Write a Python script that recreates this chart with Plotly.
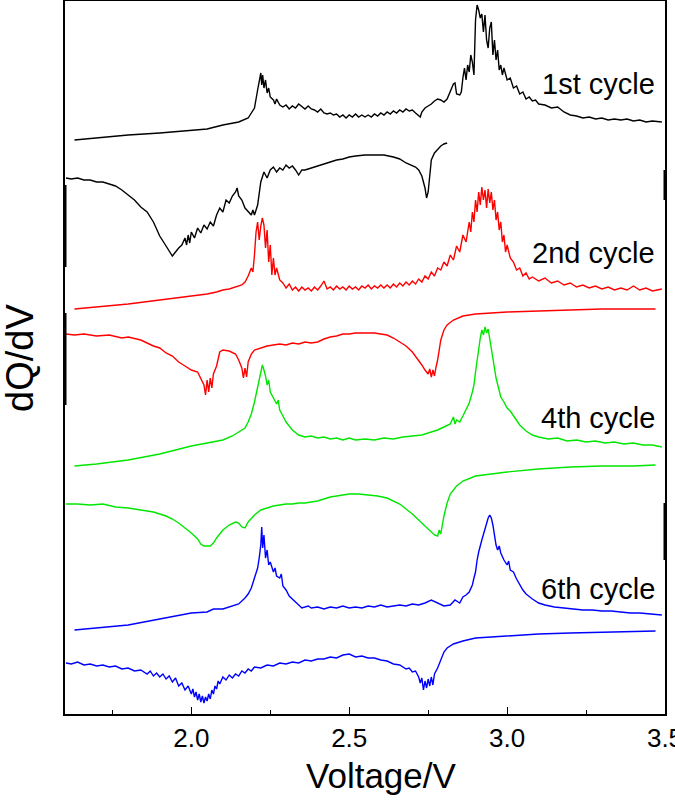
import plotly.graph_objects as go

# ---------------- data (Voltage / V, dQ/dV stacked, a.u.) ----------------
c1_chg_v = [1.63,1.70,1.80,1.90,2.00,2.05,2.10,2.15,2.18,2.20,2.21,2.215,2.22,2.223,2.226,2.23,2.235,2.24,2.245,2.25,2.26,2.265,2.27,2.28,2.29,2.30,2.31,2.32,2.33,2.34,2.35,2.36,2.37,2.38,2.39,2.40,2.41,2.42,2.43,2.44,2.45,2.46,2.47,2.48,2.49,2.50,2.51,2.52,2.53,2.54,2.55,2.56,2.57,2.58,2.59,2.60,2.61,2.62,2.63,2.64,2.65,2.66,2.67,2.68,2.69,2.70,2.71,2.72,2.725,2.73,2.74,2.75,2.76,2.77,2.78,2.79,2.80,2.81,2.82,2.83,2.835,2.84,2.85,2.855,2.86,2.865,2.87,2.875,2.88,2.885,2.89,2.895,2.90,2.905,2.91,2.915,2.92,2.925,2.93,2.935,2.94,2.945,2.95,2.955,2.96,2.965,2.97,2.975,2.98,2.985,2.99,3.00,3.01,3.02,3.03,3.04,3.05,3.06,3.07,3.08,3.09,3.10,3.12,3.14,3.16,3.18,3.20,3.22,3.24,3.26,3.28,3.30,3.32,3.34,3.36,3.38,3.40,3.42,3.44,3.46,3.49]
c1_chg_q = [574,576,579,581,584,585,589,592,596,606,624,634,641,629,639,626,634,621,626,617,614,610,615,609,607,609,605,608,606,610,607,605,608,605,604,602,605,601,600,601,599,600,597,599,596,599,597,600,597,599,597,599,597,600,598,601,599,602,600,603,601,604,602,605,603,604,601,598,597,602,606,608,610,613,615,614,612,615,622,630,631,620,619,622,636,646,634,649,642,659,652,639,694,709,704,696,700,682,699,674,666,686,692,659,674,654,664,644,649,639,646,634,636,626,628,620,622,615,617,613,614,610,609,606,607,602,599,598,596,597,595,596,594,595,594,595,593,594,592,593,592]

c1_dis_v = [1.603,1.62,1.64,1.66,1.68,1.70,1.72,1.74,1.76,1.78,1.80,1.82,1.84,1.86,1.88,1.90,1.92,1.94,1.96,1.97,1.98,1.985,1.99,1.995,2.00,2.01,2.02,2.03,2.04,2.05,2.06,2.07,2.08,2.09,2.10,2.11,2.12,2.13,2.14,2.145,2.15,2.16,2.17,2.18,2.19,2.195,2.20,2.21,2.22,2.23,2.24,2.25,2.26,2.27,2.28,2.29,2.30,2.31,2.32,2.33,2.34,2.35,2.36,2.38,2.40,2.42,2.44,2.46,2.48,2.50,2.52,2.55,2.58,2.61,2.64,2.66,2.68,2.70,2.71,2.72,2.73,2.74,2.745,2.75,2.755,2.76,2.77,2.78,2.79,2.80,2.81]
c1_dis_q = [536,535,536,534,534,532,532,530,528,524,519,514,507,502,492,478,468,458,466,469,476,469,479,471,482,476,486,481,489,485,492,488,499,506,502,514,511,518,522,526,518,514,506,502,499,504,499,509,532,542,536,544,547,542,546,544,549,546,548,544,539,544,544,546,548,550,552,554,555,557,558,559,559,559,557,555,551,548,547,544,538,526,516,522,542,554,561,565,568,570,571]

c2_chg_v = [1.63,1.70,1.80,1.90,2.00,2.05,2.08,2.10,2.12,2.14,2.16,2.17,2.18,2.19,2.195,2.20,2.205,2.21,2.215,2.22,2.225,2.23,2.235,2.24,2.245,2.25,2.255,2.26,2.265,2.27,2.28,2.29,2.30,2.31,2.32,2.33,2.34,2.35,2.36,2.37,2.38,2.39,2.40,2.41,2.42,2.43,2.44,2.45,2.46,2.47,2.48,2.49,2.50,2.51,2.52,2.53,2.54,2.55,2.56,2.57,2.58,2.59,2.60,2.61,2.62,2.63,2.64,2.65,2.66,2.67,2.68,2.69,2.70,2.71,2.72,2.73,2.74,2.75,2.76,2.77,2.78,2.79,2.80,2.81,2.82,2.83,2.84,2.85,2.86,2.87,2.88,2.885,2.89,2.895,2.90,2.905,2.91,2.915,2.92,2.925,2.93,2.935,2.94,2.945,2.95,2.955,2.96,2.965,2.97,2.975,2.98,2.985,2.99,2.995,3.00,3.01,3.02,3.03,3.04,3.05,3.06,3.07,3.08,3.10,3.12,3.14,3.16,3.18,3.20,3.22,3.24,3.26,3.28,3.30,3.32,3.34,3.36,3.38,3.40,3.42,3.44,3.46,3.49]
c2_chg_q = [405,407,410,414,418,420,422,424,425,427,429,432,438,446,442,459,482,492,474,488,496,489,466,484,452,469,439,456,439,446,434,431,426,430,424,427,423,427,424,426,423,427,424,428,433,425,427,424,428,425,427,424,428,425,427,424,428,426,429,425,428,426,429,426,429,426,430,427,431,428,432,429,433,430,435,432,438,435,442,438,446,444,452,448,459,454,468,462,479,472,492,482,502,492,514,502,522,509,527,514,524,506,525,511,522,504,514,494,502,484,492,472,479,462,469,456,452,444,446,438,441,435,437,433,436,431,433,429,431,427,429,426,428,425,427,424,426,424,428,424,426,423,425]

c2_dis_v = [1.603,1.63,1.66,1.70,1.74,1.78,1.80,1.84,1.86,1.88,1.90,1.92,1.94,1.96,1.98,2.00,2.02,2.03,2.04,2.045,2.05,2.055,2.06,2.065,2.07,2.08,2.09,2.10,2.12,2.14,2.15,2.16,2.165,2.17,2.175,2.18,2.19,2.20,2.22,2.24,2.26,2.28,2.30,2.32,2.34,2.36,2.38,2.40,2.42,2.44,2.46,2.48,2.50,2.52,2.55,2.58,2.60,2.62,2.64,2.66,2.68,2.70,2.72,2.73,2.74,2.75,2.755,2.76,2.765,2.77,2.775,2.78,2.79,2.80,2.81,2.83,2.86,2.90,2.95,3.00,3.10,3.20,3.30,3.40,3.47]
c2_dis_q = [380,379,380,378,379,376,377,374,371,368,366,361,358,352,348,344,342,336,329,319,334,322,336,326,340,348,362,364,363,360,354,346,336,346,337,352,360,364,366,368,369,370,369,371,370,372,371,372,375,377,378,380,380,381,381,381,380,379,376,372,368,362,354,349,344,340,345,337,344,338,347,354,374,384,389,394,398,400,401,402,403,404,405,405,405]

c4_chg_v = [1.63,1.70,1.80,1.90,2.00,2.05,2.10,2.13,2.15,2.17,2.18,2.19,2.20,2.21,2.215,2.22,2.225,2.23,2.235,2.24,2.245,2.25,2.26,2.27,2.275,2.28,2.29,2.30,2.32,2.34,2.36,2.38,2.40,2.42,2.44,2.46,2.48,2.50,2.52,2.55,2.58,2.61,2.64,2.67,2.70,2.73,2.76,2.78,2.80,2.82,2.83,2.835,2.84,2.85,2.86,2.87,2.88,2.89,2.895,2.90,2.905,2.91,2.915,2.92,2.925,2.93,2.935,2.94,2.945,2.95,2.955,2.96,2.965,2.97,2.975,2.98,2.99,3.00,3.01,3.02,3.03,3.04,3.06,3.08,3.10,3.13,3.16,3.19,3.22,3.25,3.28,3.31,3.34,3.37,3.40,3.43,3.46,3.49]
c4_chg_q = [248,250,254,260,268,271,274,278,282,286,292,300,312,326,336,342,349,344,338,329,334,322,316,310,314,304,298,292,284,279,277,278,276,277,275,276,274,276,274,275,274,276,275,277,278,279,282,284,287,290,297,290,294,292,298,304,311,322,329,342,354,366,376,384,379,387,381,385,376,368,359,346,336,330,322,317,312,306,303,298,294,289,283,279,277,275,276,273,274,272,273,271,272,270,271,269,269,267]

c4_dis_v = [1.603,1.64,1.68,1.72,1.76,1.80,1.84,1.88,1.90,1.92,1.94,1.96,1.98,2.00,2.02,2.03,2.04,2.06,2.07,2.08,2.10,2.12,2.14,2.15,2.16,2.17,2.18,2.20,2.22,2.24,2.26,2.28,2.30,2.32,2.34,2.36,2.38,2.40,2.42,2.44,2.46,2.48,2.50,2.53,2.56,2.59,2.62,2.64,2.66,2.68,2.70,2.72,2.74,2.75,2.76,2.77,2.78,2.785,2.79,2.80,2.81,2.82,2.84,2.86,2.90,2.95,3.00,3.10,3.20,3.30,3.40,3.47]
c4_dis_q = [210,210,209,210,207,206,204,202,200,198,195,191,186,181,175,170,168,168,171,176,184,189,192,191,187,186,192,199,204,206,208,209,210,210,211,211,212,213,215,217,218,219,220,220,219,218,216,213,210,205,200,194,188,185,182,179,178,184,180,198,211,220,228,233,238,240,242,245,247,248,248,249]

c6_chg_v = [1.63,1.70,1.80,1.90,2.00,2.05,2.07,2.10,2.13,2.15,2.17,2.18,2.19,2.20,2.21,2.215,2.22,2.223,2.226,2.23,2.235,2.24,2.245,2.25,2.26,2.265,2.27,2.28,2.285,2.29,2.30,2.31,2.32,2.33,2.34,2.35,2.37,2.38,2.40,2.42,2.44,2.46,2.48,2.50,2.52,2.54,2.56,2.58,2.60,2.62,2.64,2.66,2.68,2.70,2.72,2.74,2.76,2.78,2.80,2.82,2.835,2.845,2.85,2.86,2.87,2.88,2.89,2.895,2.90,2.905,2.91,2.92,2.93,2.94,2.945,2.95,2.955,2.96,2.965,2.97,2.975,2.98,2.99,3.00,3.005,3.01,3.02,3.03,3.04,3.05,3.06,3.08,3.10,3.12,3.15,3.18,3.21,3.24,3.27,3.30,3.33,3.36,3.39,3.42,3.45,3.49]
c6_chg_q = [84,86,89,95,101,102,105,105,108,110,116,120,126,136,146,156,169,187,166,179,156,164,149,152,142,146,138,136,140,128,124,118,115,111,109,106,108,106,107,105,107,106,108,106,107,106,108,107,109,107,108,109,108,110,109,111,114,111,108,109,114,112,111,117,119,122,129,136,142,154,162,174,186,196,199,196,189,179,169,164,168,161,154,149,153,144,142,135,129,124,120,115,111,109,107,106,105,104,104,103,103,102,101,101,100,99]

c6_dis_v = [1.603,1.62,1.64,1.66,1.68,1.70,1.72,1.74,1.76,1.78,1.80,1.82,1.84,1.86,1.87,1.88,1.89,1.90,1.91,1.92,1.93,1.94,1.95,1.96,1.97,1.98,1.99,2.00,2.005,2.01,2.015,2.02,2.025,2.03,2.035,2.04,2.045,2.05,2.055,2.06,2.065,2.07,2.075,2.08,2.085,2.09,2.10,2.11,2.12,2.13,2.14,2.15,2.16,2.17,2.18,2.19,2.20,2.22,2.24,2.26,2.28,2.30,2.32,2.34,2.36,2.38,2.40,2.42,2.44,2.46,2.48,2.50,2.52,2.54,2.56,2.58,2.60,2.62,2.64,2.66,2.68,2.69,2.70,2.71,2.72,2.725,2.73,2.735,2.74,2.745,2.75,2.755,2.76,2.765,2.77,2.78,2.79,2.80,2.81,2.83,2.86,2.90,2.95,3.00,3.10,3.20,3.30,3.40,3.47]
c6_dis_q = [51,50,52,49,50,48,49,47,48,45,46,43,44,40,43,38,41,37,40,35,38,32,36,28,31,24,28,20,25,17,22,14,20,12,18,11,17,13,20,15,24,20,28,25,33,30,37,34,39,36,40,38,43,41,45,43,47,46,49,48,51,50,52,51,54,53,55,55,57,56,59,60,57,58,56,56,54,53,50,49,45,46,42,43,37,31,36,24,33,26,35,28,37,29,40,46,54,62,66,70,73,76,77,78,80,81,82,83,83]

series = [
    ("1st cycle charge", c1_chg_v, c1_chg_q, "#000000"),
    ("1st cycle discharge", c1_dis_v, c1_dis_q, "#000000"),
    ("2nd cycle charge", c2_chg_v, c2_chg_q, "#ff0000"),
    ("2nd cycle discharge", c2_dis_v, c2_dis_q, "#ff0000"),
    ("4th cycle charge", c4_chg_v, c4_chg_q, "#00e600"),
    ("4th cycle discharge", c4_dis_v, c4_dis_q, "#00e600"),
    ("6th cycle charge", c6_chg_v, c6_chg_q, "#0000ff"),
    ("6th cycle discharge", c6_dis_v, c6_dis_q, "#0000ff"),
]

cycle_labels = ["1st cycle", "2nd cycle", "4th cycle", "6th cycle"]
label_levels = [630, 461, 296, 125]

x_ticks = [2.0, 2.5, 3.0, 3.5]
x_ticktext = ["2.0", "2.5", "3.0", "3.5"]

FONT = "Liberation Sans, Arial, sans-serif"

fig = go.Figure()
for name, xv, yv, col in series:
    fig.add_trace(go.Scatter(x=xv, y=yv, mode="lines", name=name,
                             line=dict(color=col, width=1.4), showlegend=False))

for lab, lev in zip(cycle_labels, label_levels):
    fig.add_annotation(x=3.474, y=lev, xref="x", yref="y", text=lab, showarrow=False,
                       xanchor="right", yanchor="middle",
                       font=dict(family=FONT, size=29, color="#000000"))

fig.add_annotation(x=0.527, y=-0.086, xref="paper", yref="paper", text="Voltage/V",
                   showarrow=False, xanchor="center", yanchor="middle",
                   font=dict(family=FONT, size=35, color="#000000"))
fig.add_annotation(x=-0.076, y=0.5, xref="paper", yref="paper", text="dQ/dV",
                   showarrow=False, textangle=-90, xanchor="center", yanchor="middle",
                   font=dict(family=FONT, size=38, color="#000000"))

# thicker spine fragments (stacked panel edges)
for y0, y1, xp in [(185, 267, 0), (313, 405, 0), (503, 560, 1), (170, 200, 1)]:
    fig.add_shape(type="line", xref="paper", yref="paper", x0=xp, x1=xp,
                  y0=(714 - y0) / 713, y1=(714 - y1) / 713,
                  line=dict(color="#000000", width=3))

fig.update_xaxes(range=[1.6, 3.5], tickmode="array", tickvals=x_ticks, ticktext=x_ticktext,
                 ticks="inside", ticklen=7, tickwidth=1.3, tickcolor="#000000",
                 minor=dict(tickvals=[1.75, 2.25, 2.75, 3.25], ticks="inside", ticklen=4,
                            tickwidth=1.3, tickcolor="#000000"),
                 showline=True, linecolor="#000000", linewidth=1.6, mirror=True,
                 showgrid=False, zeroline=False, automargin=False,
                 ticklabeloverflow="allow",
                 tickfont=dict(family=FONT, size=26, color="#000000"))
fig.update_yaxes(range=[0, 713], showticklabels=False, ticks="",
                 showline=True, linecolor="#000000", linewidth=1.6, mirror=True,
                 showgrid=False, zeroline=False, automargin=False)

fig.update_layout(width=675, height=802, margin=dict(l=65, r=10, t=1, b=88, autoexpand=False),
                  paper_bgcolor="#ffffff", plot_bgcolor="#ffffff")

fig.write_html("out.html", config={"displayModeBar": False},
               post_script="document.body.style.margin='0px';document.body.style.overflow='hidden';")
